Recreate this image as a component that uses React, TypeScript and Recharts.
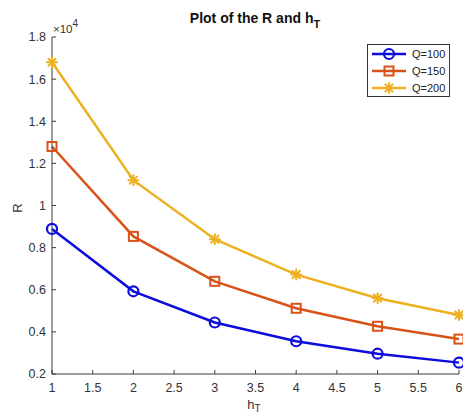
import React from "react"
import { LineChart, Line, XAxis, YAxis } from "recharts"

// R against h_T for three values of Q
const hT = [1, 2, 3, 4, 5, 6]
const rQ100 = [8889, 5926, 4444, 3556, 2963, 2540]
const rQ150 = [12800, 8533, 6400, 5120, 4267, 3657]
const rQ200 = [16800, 11200, 8400, 6720, 5600, 4800]
const seriesNames = ["Q=100", "Q=150", "Q=200"]
const xTicks = [1, 1.5, 2, 2.5, 3, 3.5, 4, 4.5, 5, 5.5, 6]
const yTicks = [2000, 4000, 6000, 8000, 10000, 12000, 14000, 16000, 18000]

const W = 463
const H = 416
const FONT = '"Liberation Sans", Arial, Helvetica, sans-serif'
const AXIS = "#3a3a3a"

type MarkerProps = { cx: number; cy: number; color: string }

const CircleMarker = ({ cx, cy, color }: MarkerProps) => (
    <circle cx={cx} cy={cy} r={5} fill="none" stroke={color} strokeWidth={2.2} />
)

const SquareMarker = ({ cx, cy, color }: MarkerProps) => (
    <rect x={cx - 4.5} y={cy - 4.5} width={9} height={9} fill="none" stroke={color} strokeWidth={2} />
)

const StarMarker = ({ cx, cy, color }: MarkerProps) => {
    const r = 5
    const d = r * 0.72
    return (
        <g stroke={color} strokeWidth={2} strokeLinecap="round">
            <line x1={cx - r} y1={cy} x2={cx + r} y2={cy} />
            <line x1={cx} y1={cy - r} x2={cx} y2={cy + r} />
            <line x1={cx - d} y1={cy - d} x2={cx + d} y2={cy + d} />
            <line x1={cx - d} y1={cy + d} x2={cx + d} y2={cy - d} />
        </g>
    )
}

const series = [
    { key: "q100", name: seriesNames[0], color: "#0c0cdc", Marker: CircleMarker },
    { key: "q150", name: seriesNames[1], color: "#D95319", Marker: SquareMarker },
    { key: "q200", name: seriesNames[2], color: "#EDB120", Marker: StarMarker },
]

const data = hT.map((h, i) => ({ h, q100: rQ100[i], q150: rQ150[i], q200: rQ200[i] }))

export default function App() {
    return (
        <div style={{ position: "absolute", left: 0, top: 0, width: W, height: H, background: "#fff", fontFamily: FONT }}>
            <LineChart width={W} height={H} data={data} margin={{ top: 37, right: 4, bottom: 0, left: 0 }}>
                <XAxis
                    type="number"
                    dataKey="h"
                    domain={[1, 6]}
                    ticks={xTicks}
                    height={42}
                    tickSize={-4}
                    tickMargin={13}
                    axisLine={{ stroke: AXIS }}
                    tickLine={{ stroke: AXIS }}
                    tick={{ fill: "#333", fontSize: 12.5, fontFamily: FONT }}
                    interval={0}
                />
                <YAxis
                    type="number"
                    domain={[2000, 18000]}
                    ticks={yTicks}
                    width={52}
                    tickSize={-4}
                    tickMargin={10}
                    axisLine={{ stroke: AXIS }}
                    tickLine={{ stroke: AXIS }}
                    tick={{ fill: "#333", fontSize: 12.5, fontFamily: FONT }}
                    tickFormatter={(v: number) => String(v / 10000)}
                    interval={0}
                />
                {series.map((s) => (
                    <Line
                        key={s.key}
                        type="linear"
                        dataKey={s.key}
                        name={s.name}
                        stroke={s.color}
                        strokeWidth={2.5}
                        isAnimationActive={false}
                        activeDot={false}
                        dot={(p: any) => <s.Marker key={`${s.key}-${p.index}`} cx={p.cx} cy={p.cy} color={s.color} />}
                    />
                ))}
            </LineChart>

            {/* title, axis labels, exponent and legend */}
            <svg width={W} height={H} style={{ position: "absolute", left: 0, top: 0, pointerEvents: "none" }} fontFamily={FONT}>
                <text x={255} y={23} textAnchor="middle" fontSize={14} fontWeight="bold" fill="#111">
                    Plot of the R and h<tspan fontSize={11} dy={5}>T</tspan>
                </text>
                <text x={53} y={33} fontSize={11.5} fill="#333">
                    ×10<tspan fontSize={10} dy={-6}>4</tspan>
                </text>
                <text transform="translate(22,208) rotate(-90)" textAnchor="middle" fontSize={13} fill="#333">R</text>
                <text x={254} y={409} textAnchor="middle" fontSize={13} fill="#333">
                    h<tspan fontSize={10} dy={3}>T</tspan>
                </text>

                <rect x={367.5} y={44.5} width={82} height={52} fill="#fff" stroke="#333" strokeWidth={1} />
                {series.map((s, i) => {
                    const y = 54 + i * 17
                    return (
                        <g key={s.key}>
                            <line x1={372} y1={y} x2={406} y2={y} stroke={s.color} strokeWidth={2.5} />
                            <s.Marker cx={389} cy={y} color={s.color} />
                            <text x={412} y={y + 4} fontSize={11} fill="#222">{s.name}</text>
                        </g>
                    )
                })}
            </svg>
        </div>
    )
}
